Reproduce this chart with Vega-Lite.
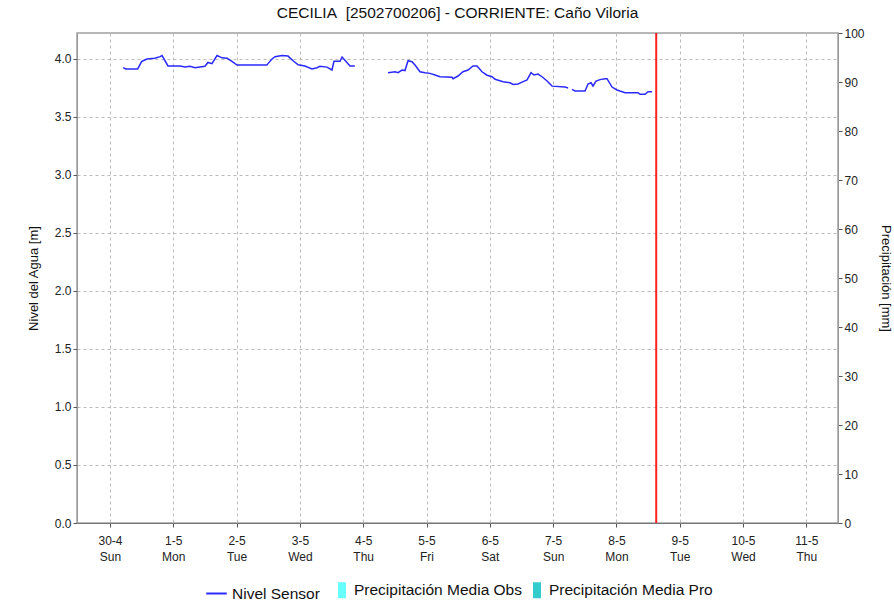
{
  "$schema": "https://vega.github.io/schema/vega-lite/v6.json",
  "autosize": {"type": "none"},
  "width": 761,
  "height": 490,
  "padding": {"left": 77, "top": 33, "right": 56, "bottom": 79},
  "background": "white",
  "title": {"text": "CECILIA\u00a0 [2502700206] - CORRIENTE: Caño Viloria", "font": "Liberation Sans", "fontSize": 15.5, "fontWeight": "normal", "color": "#111", "anchor": "middle", "offset": 6},
  "config": {
    "view": {"stroke": "#a0a0a0", "strokeWidth": 1.5},
    "axis": {"labelFont": "Liberation Sans", "labelFontSize": 12, "labelColor": "#222", "domainColor": "#999", "tickColor": "#555", "tickSize": 4, "gridColor": "#bbbbbb", "gridDash": [3, 3], "titleFont": "Liberation Sans", "titleFontSize": 13, "titleFontWeight": "normal", "titleColor": "#111"},
    "legend": {"labelFont": "Liberation Sans", "labelFontSize": 15.5, "labelColor": "#111", "labelLimit": 400}
  },
  "layer": [
    {
      "data": {"values": [
        {"t": "2023-04-30T05:00Z", "nivel": 3.925, "seg": 1},
        {"t": "2023-04-30T06:00Z", "nivel": 3.914, "seg": 1},
        {"t": "2023-04-30T10:30Z", "nivel": 3.914, "seg": 1},
        {"t": "2023-04-30T12:00Z", "nivel": 3.977, "seg": 1},
        {"t": "2023-04-30T14:00Z", "nivel": 4.0, "seg": 1},
        {"t": "2023-04-30T17:00Z", "nivel": 4.006, "seg": 1},
        {"t": "2023-04-30T19:00Z", "nivel": 4.02, "seg": 1},
        {"t": "2023-04-30T19:45Z", "nivel": 4.03, "seg": 1},
        {"t": "2023-04-30T22:00Z", "nivel": 3.94, "seg": 1},
        {"t": "2023-05-01T02:30Z", "nivel": 3.94, "seg": 1},
        {"t": "2023-05-01T04:30Z", "nivel": 3.93, "seg": 1},
        {"t": "2023-05-01T06:20Z", "nivel": 3.937, "seg": 1},
        {"t": "2023-05-01T08:15Z", "nivel": 3.925, "seg": 1},
        {"t": "2023-05-01T12:00Z", "nivel": 3.937, "seg": 1},
        {"t": "2023-05-01T13:10Z", "nivel": 3.97, "seg": 1},
        {"t": "2023-05-01T14:40Z", "nivel": 3.96, "seg": 1},
        {"t": "2023-05-01T16:35Z", "nivel": 4.03, "seg": 1},
        {"t": "2023-05-01T18:30Z", "nivel": 4.01, "seg": 1},
        {"t": "2023-05-01T20:25Z", "nivel": 4.006, "seg": 1},
        {"t": "2023-05-01T22:15Z", "nivel": 3.98, "seg": 1},
        {"t": "2023-05-02T00:10Z", "nivel": 3.948, "seg": 1},
        {"t": "2023-05-02T11:30Z", "nivel": 3.948, "seg": 1},
        {"t": "2023-05-02T11:55Z", "nivel": 3.96, "seg": 1},
        {"t": "2023-05-02T13:25Z", "nivel": 4.0, "seg": 1},
        {"t": "2023-05-02T14:35Z", "nivel": 4.02, "seg": 1},
        {"t": "2023-05-02T17:10Z", "nivel": 4.03, "seg": 1},
        {"t": "2023-05-02T19:30Z", "nivel": 4.025, "seg": 1},
        {"t": "2023-05-02T21:25Z", "nivel": 3.985, "seg": 1},
        {"t": "2023-05-02T23:20Z", "nivel": 3.95, "seg": 1},
        {"t": "2023-05-03T01:55Z", "nivel": 3.94, "seg": 1},
        {"t": "2023-05-03T04:35Z", "nivel": 3.914, "seg": 1},
        {"t": "2023-05-03T06:30Z", "nivel": 3.925, "seg": 1},
        {"t": "2023-05-03T07:37Z", "nivel": 3.937, "seg": 1},
        {"t": "2023-05-03T10:15Z", "nivel": 3.93, "seg": 1},
        {"t": "2023-05-03T12:10Z", "nivel": 3.905, "seg": 1},
        {"t": "2023-05-03T12:55Z", "nivel": 3.98, "seg": 1},
        {"t": "2023-05-03T15:12Z", "nivel": 3.98, "seg": 1},
        {"t": "2023-05-03T16:00Z", "nivel": 4.017, "seg": 1},
        {"t": "2023-05-03T19:00Z", "nivel": 3.94, "seg": 1},
        {"t": "2023-05-03T20:50Z", "nivel": 3.94, "seg": 1},
        {"t": "2023-05-04T09:24Z", "nivel": 3.882, "seg": 2},
        {"t": "2023-05-04T12:05Z", "nivel": 3.89, "seg": 2},
        {"t": "2023-05-04T13:12Z", "nivel": 3.882, "seg": 2},
        {"t": "2023-05-04T14:42Z", "nivel": 3.905, "seg": 2},
        {"t": "2023-05-04T15:50Z", "nivel": 3.9, "seg": 2},
        {"t": "2023-05-04T17:00Z", "nivel": 3.985, "seg": 2},
        {"t": "2023-05-04T18:30Z", "nivel": 3.977, "seg": 2},
        {"t": "2023-05-04T19:38Z", "nivel": 3.948, "seg": 2},
        {"t": "2023-05-04T21:32Z", "nivel": 3.89, "seg": 2},
        {"t": "2023-05-04T23:26Z", "nivel": 3.882, "seg": 2},
        {"t": "2023-05-05T01:20Z", "nivel": 3.876, "seg": 2},
        {"t": "2023-05-05T03:13Z", "nivel": 3.862, "seg": 2},
        {"t": "2023-05-05T05:07Z", "nivel": 3.847, "seg": 2},
        {"t": "2023-05-05T09:40Z", "nivel": 3.842, "seg": 2},
        {"t": "2023-05-05T10:03Z", "nivel": 3.83, "seg": 2},
        {"t": "2023-05-05T11:57Z", "nivel": 3.853, "seg": 2},
        {"t": "2023-05-05T13:50Z", "nivel": 3.89, "seg": 2},
        {"t": "2023-05-05T15:44Z", "nivel": 3.905, "seg": 2},
        {"t": "2023-05-05T17:38Z", "nivel": 3.94, "seg": 2},
        {"t": "2023-05-05T19:09Z", "nivel": 3.94, "seg": 2},
        {"t": "2023-05-05T21:03Z", "nivel": 3.89, "seg": 2},
        {"t": "2023-05-05T22:57Z", "nivel": 3.86, "seg": 2},
        {"t": "2023-05-06T00:50Z", "nivel": 3.847, "seg": 2},
        {"t": "2023-05-06T02:00Z", "nivel": 3.825, "seg": 2},
        {"t": "2023-05-06T05:02Z", "nivel": 3.804, "seg": 2},
        {"t": "2023-05-06T07:40Z", "nivel": 3.795, "seg": 2},
        {"t": "2023-05-06T08:48Z", "nivel": 3.78, "seg": 2},
        {"t": "2023-05-06T10:42Z", "nivel": 3.784, "seg": 2},
        {"t": "2023-05-06T12:13Z", "nivel": 3.8, "seg": 2},
        {"t": "2023-05-06T14:07Z", "nivel": 3.819, "seg": 2},
        {"t": "2023-05-06T15:38Z", "nivel": 3.882, "seg": 2},
        {"t": "2023-05-06T16:46Z", "nivel": 3.862, "seg": 2},
        {"t": "2023-05-06T18:17Z", "nivel": 3.87, "seg": 2},
        {"t": "2023-05-06T19:48Z", "nivel": 3.847, "seg": 2},
        {"t": "2023-05-06T21:42Z", "nivel": 3.81, "seg": 2},
        {"t": "2023-05-06T23:36Z", "nivel": 3.766, "seg": 2},
        {"t": "2023-05-07T04:30Z", "nivel": 3.758, "seg": 2},
        {"t": "2023-05-07T05:40Z", "nivel": 3.75, "seg": 2},
        {"t": "2023-05-07T07:10Z", "nivel": 3.738, "seg": 3},
        {"t": "2023-05-07T08:18Z", "nivel": 3.724, "seg": 3},
        {"t": "2023-05-07T12:06Z", "nivel": 3.724, "seg": 3},
        {"t": "2023-05-07T13:14Z", "nivel": 3.784, "seg": 3},
        {"t": "2023-05-07T14:22Z", "nivel": 3.795, "seg": 3},
        {"t": "2023-05-07T15:07Z", "nivel": 3.767, "seg": 3},
        {"t": "2023-05-07T16:16Z", "nivel": 3.81, "seg": 3},
        {"t": "2023-05-07T17:47Z", "nivel": 3.822, "seg": 3},
        {"t": "2023-05-07T19:41Z", "nivel": 3.83, "seg": 3},
        {"t": "2023-05-07T20:26Z", "nivel": 3.83, "seg": 3},
        {"t": "2023-05-07T22:20Z", "nivel": 3.758, "seg": 3},
        {"t": "2023-05-08T00:13Z", "nivel": 3.733, "seg": 3},
        {"t": "2023-05-08T01:21Z", "nivel": 3.724, "seg": 3},
        {"t": "2023-05-08T03:15Z", "nivel": 3.71, "seg": 3},
        {"t": "2023-05-08T08:12Z", "nivel": 3.71, "seg": 3},
        {"t": "2023-05-08T08:57Z", "nivel": 3.696, "seg": 3},
        {"t": "2023-05-08T10:51Z", "nivel": 3.696, "seg": 3},
        {"t": "2023-05-08T12:00Z", "nivel": 3.718, "seg": 3},
        {"t": "2023-05-08T13:30Z", "nivel": 3.718, "seg": 3}
      ]},
      "mark": {"type": "line", "strokeWidth": 1.5, "interpolate": "linear"},
      "encoding": {
        "x": {"field": "t", "type": "temporal",
          "scale": {"type": "utc", "padding": 0, "domain": ["2023-04-29T11:30:00Z", "2023-05-11T12:00:00Z"]},
          "axis": {"title": null, "grid": true, "domainColor": "#777", "tickSize": 4, "labelPadding": 8, "labelLineHeight": 16,
            "values": [
              {"year": 2023, "month": 4, "date": 30, "utc": true},
              {"year": 2023, "month": 5, "date": 1, "utc": true},
              {"year": 2023, "month": 5, "date": 2, "utc": true},
              {"year": 2023, "month": 5, "date": 3, "utc": true},
              {"year": 2023, "month": 5, "date": 4, "utc": true},
              {"year": 2023, "month": 5, "date": 5, "utc": true},
              {"year": 2023, "month": 5, "date": 6, "utc": true},
              {"year": 2023, "month": 5, "date": 7, "utc": true},
              {"year": 2023, "month": 5, "date": 8, "utc": true},
              {"year": 2023, "month": 5, "date": 9, "utc": true},
              {"year": 2023, "month": 5, "date": 10, "utc": true},
              {"year": 2023, "month": 5, "date": 11, "utc": true}
            ],
            "labelExpr": "[utcFormat(datum.value, '%-d-%-m'), utcFormat(datum.value, '%a')]"}},
        "y": {"field": "nivel", "type": "quantitative",
          "scale": {"domain": [0, 4.224], "nice": false, "zero": true},
          "axis": {"title": "Nivel del Agua [m]", "orient": "left", "grid": true, "values": [0, 0.5, 1, 1.5, 2, 2.5, 3, 3.5, 4], "format": ".1f", "titlePadding": 14, "domainColor": "#999"}},
        "detail": {"field": "seg", "type": "nominal"},
        "stroke": {"datum": "Nivel Sensor", "type": "nominal",
          "scale": {"domain": ["Nivel Sensor"], "range": ["#2a2aff"]},
          "legend": {"title": null, "orient": "none", "legendX": 128, "legendY": 549, "symbolType": "stroke", "symbolSize": 420, "symbolStrokeWidth": 2, "labelOffset": 4}}
      }
    },
    {
      "data": {"values": [
        {"t": "2023-04-30T00:00Z", "p": 0, "tipo": "Precipitación Media Obs"},
        {"t": "2023-05-01T00:00Z", "p": 0, "tipo": "Precipitación Media Obs"},
        {"t": "2023-05-02T00:00Z", "p": 0, "tipo": "Precipitación Media Obs"},
        {"t": "2023-05-03T00:00Z", "p": 0, "tipo": "Precipitación Media Obs"},
        {"t": "2023-05-04T00:00Z", "p": 0, "tipo": "Precipitación Media Obs"},
        {"t": "2023-05-05T00:00Z", "p": 0, "tipo": "Precipitación Media Obs"},
        {"t": "2023-05-06T00:00Z", "p": 0, "tipo": "Precipitación Media Obs"},
        {"t": "2023-05-07T00:00Z", "p": 0, "tipo": "Precipitación Media Obs"},
        {"t": "2023-05-08T00:00Z", "p": 0, "tipo": "Precipitación Media Obs"},
        {"t": "2023-05-09T00:00Z", "p": 0, "tipo": "Precipitación Media Pro"},
        {"t": "2023-05-10T00:00Z", "p": 0, "tipo": "Precipitación Media Pro"},
        {"t": "2023-05-11T00:00Z", "p": 0, "tipo": "Precipitación Media Pro"}
      ]},
      "mark": {"type": "bar", "width": 6},
      "encoding": {
        "x": {"field": "t", "type": "temporal"},
        "y": {"field": "p", "type": "quantitative",
          "scale": {"domain": [0, 100], "nice": false},
          "axis": {"title": "Precipitación [mm]", "orient": "right", "grid": false, "values": [0, 10, 20, 30, 40, 50, 60, 70, 80, 90, 100], "titleAngle": 90, "titlePadding": 14, "titleBaseline": "bottom", "domainColor": "#999"}},
        "fill": {"field": "tipo", "type": "nominal",
          "scale": {"domain": ["Precipitación Media Obs", "Precipitación Media Pro"], "range": ["#66ffff", "#33cccc"]},
          "legend": {"title": null, "orient": "none", "direction": "horizontal", "legendX": 257, "legendY": 549, "symbolType": "M-0.5,-1H0.5V1H-0.5Z", "symbolSize": 256, "symbolStrokeWidth": 0, "labelOffset": 4, "columnPadding": 7}}
      }
    },
    {
      "data": {"values": [{"ahora": "2023-05-08T15:05:00Z"}]},
      "mark": {"type": "rule", "color": "#ff2020", "strokeWidth": 2},
      "encoding": {"x": {"field": "ahora", "type": "temporal"}}
    }
  ],
  "resolve": {"scale": {"y": "independent"}}
}
